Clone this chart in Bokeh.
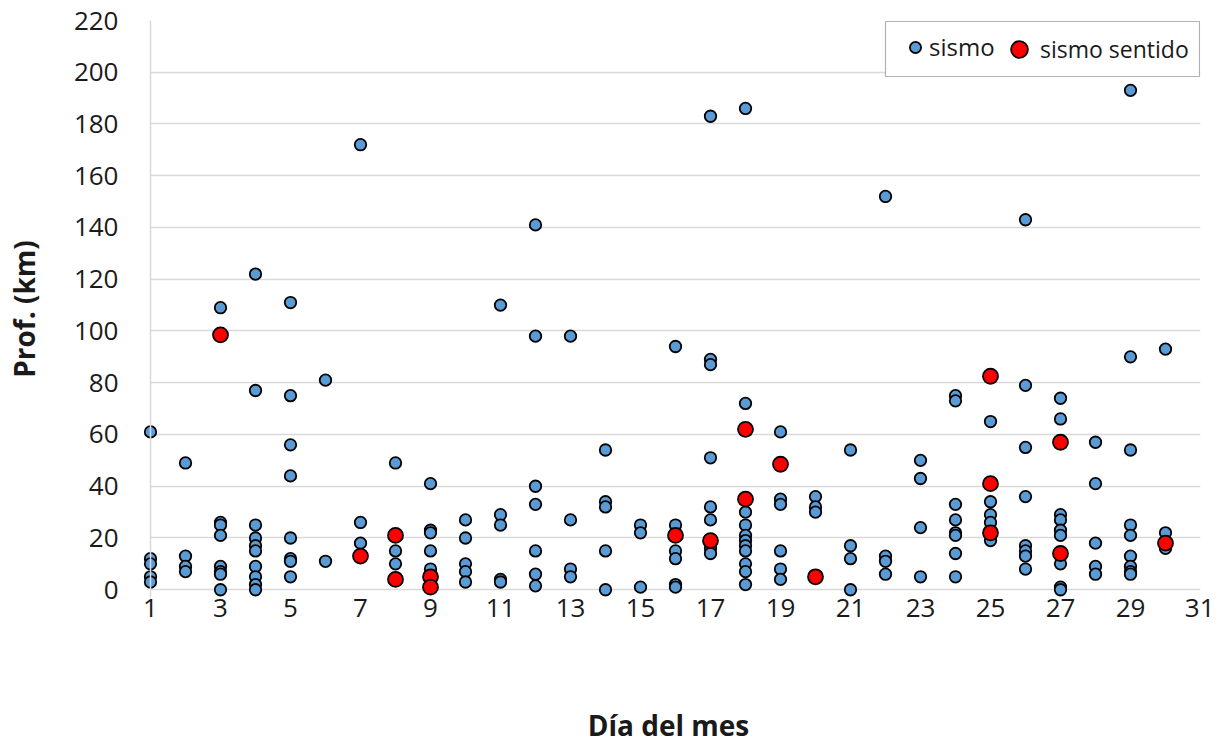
from bokeh.plotting import figure
from bokeh.models import (Range1d, FixedTicker, Span, Legend, LegendItem,
                          BoxAnnotation, Grid)
from bokeh.embed import file_html
from bokeh.resources import INLINE

# ---- data ----
sismo_day = (
    [1]*5 + [2]*4 + [3]*8 + [4]*10 + [5]*8 + [6]*2 + [7]*3 + [8]*3 + [9]*5 +
    [10]*5 + [11]*5 + [12]*7 + [13]*4 + [14]*5 + [15]*3 + [16]*6 + [17]*8 +
    [18]*11 + [19]*6 + [20]*3 + [21]*4 + [22]*4 + [23]*4 + [24]*8 + [25]*5 +
    [26]*8 + [27]*9 + [28]*5 + [29]*9 + [30]*3
)
sismo_depth = [
    61, 12, 10, 5, 3,
    49, 13, 9, 7,
    109, 26, 25, 21, 9, 7, 6, 0,
    122, 77, 25, 20, 17, 15, 9, 5, 2, 0,
    111, 75, 56, 44, 20, 12, 11, 5,
    81, 11,
    172, 26, 18,
    49, 15, 10,
    41, 23, 22, 15, 8,
    27, 20, 10, 7, 3,
    110, 29, 25, 4, 3,
    141, 98, 40, 33, 15, 6, 1.5,
    98, 27, 8, 5,
    54, 34, 32, 15, 0,
    25, 22, 1,
    94, 25, 15, 12, 2, 1,
    183, 89, 87, 51, 32, 27, 16, 14,
    186, 72, 30, 25, 21, 19, 17, 15, 10, 7, 2,
    61, 35, 33, 15, 8, 4,
    36, 32, 30,
    54, 17, 12, 0,
    152, 13, 11, 6,
    50, 43, 24, 5,
    75, 73, 33, 27, 22, 21, 14, 5,
    65, 34, 29, 26, 19,
    143, 79, 55, 36, 17, 15, 13, 8,
    74, 66, 29, 27, 23, 21, 10, 1, 0,
    57, 41, 18, 9, 6,
    193, 90, 54, 25, 21, 13, 9, 7, 6,
    93, 22, 16,
]
sentido_day = [3, 7, 8, 8, 9, 9, 16, 17, 18, 18, 19, 20, 25, 25, 25, 27, 27, 30]
sentido_depth = [98.5, 13, 21, 4, 5, 1, 21, 19, 62, 35, 48.5, 5, 82.5, 41, 22, 57, 14, 18]

x_ticks = list(range(1, 32, 2))
y_ticks = list(range(0, 221, 20))

FONT = "Open Sans"
GRID = "#d9d9d9"
TXT = "#1a1a1a"

p = figure(width=1214, height=746, output_backend="svg", toolbar_location=None,
           x_range=Range1d(0.6, 31.0), y_range=Range1d(-3, 220),
           min_border_left=136, min_border_right=14, min_border_top=20,
           min_border_bottom=148)
p.outline_line_color = None
p.background_fill_color = "white"

p.xaxis.ticker = FixedTicker(ticks=x_ticks)
p.yaxis.ticker = FixedTicker(ticks=y_ticks)
for ax in (p.xaxis, p.yaxis):
    ax.axis_line_color = None
    ax.major_tick_line_color = None
    ax.minor_tick_line_color = None
    ax.major_tick_in = 0
    ax.major_tick_out = 0
    ax.major_label_text_font = FONT
    ax.major_label_text_font_size = "26px"
    ax.major_label_text_color = TXT
    ax.axis_label_text_font = FONT
    ax.axis_label_text_font_size = "28px"
    ax.axis_label_text_font_style = "bold"
    ax.axis_label_text_color = TXT
p.yaxis.major_label_standoff = 18
p.xaxis.major_label_standoff = 1
p.xaxis.axis_label = "Día del mes"
p.yaxis.axis_label = "Prof. (km)"
p.xaxis.axis_label_standoff = 86
p.yaxis.axis_label_standoff = 28

p.xgrid.grid_line_color = None
p.ygrid.grid_line_color = GRID
p.ygrid.grid_line_width = 1.5
if "cross_bounds" in Grid.properties():
    p.ygrid.cross_bounds = (1, 31)

p.add_layout(Span(location=1, dimension="height", line_color=GRID, line_width=1.5))

r1 = p.scatter(sismo_day, sismo_depth, size=11.5, fill_color="#5b9bd5",
               line_color="black", line_width=1.8)
r2 = p.scatter(sentido_day, sentido_depth, size=15, fill_color="#ff0000",
               line_color="black", line_width=1.8)

# legend box and two legends (different marker sizes)
p.add_layout(BoxAnnotation(left=749, right=1063, bottom=521, top=576,
                           left_units="screen", right_units="screen",
                           bottom_units="screen", top_units="screen",
                           fill_color="white", fill_alpha=1.0,
                           line_color="black", line_width=1.2))
leg1 = Legend(items=[LegendItem(label="sismo", renderers=[r1])],
              location=(765, 534), glyph_width=28, glyph_height=28,
              padding=0, margin=0, label_standoff=0, border_line_color=None,
              background_fill_alpha=0, label_text_font=FONT,
              label_text_font_size="24px", label_text_color=TXT)
leg2 = Legend(items=[LegendItem(label="sismo sentido", renderers=[r2])],
              location=(862, 527), glyph_width=42, glyph_height=42,
              padding=0, margin=0, label_standoff=0, border_line_color=None,
              background_fill_alpha=0, label_text_font=FONT,
              label_text_font_size="23px", label_text_color=TXT)
p.add_layout(leg1)
p.add_layout(leg2)

open("out.html", "w").write(file_html(p, INLINE))
